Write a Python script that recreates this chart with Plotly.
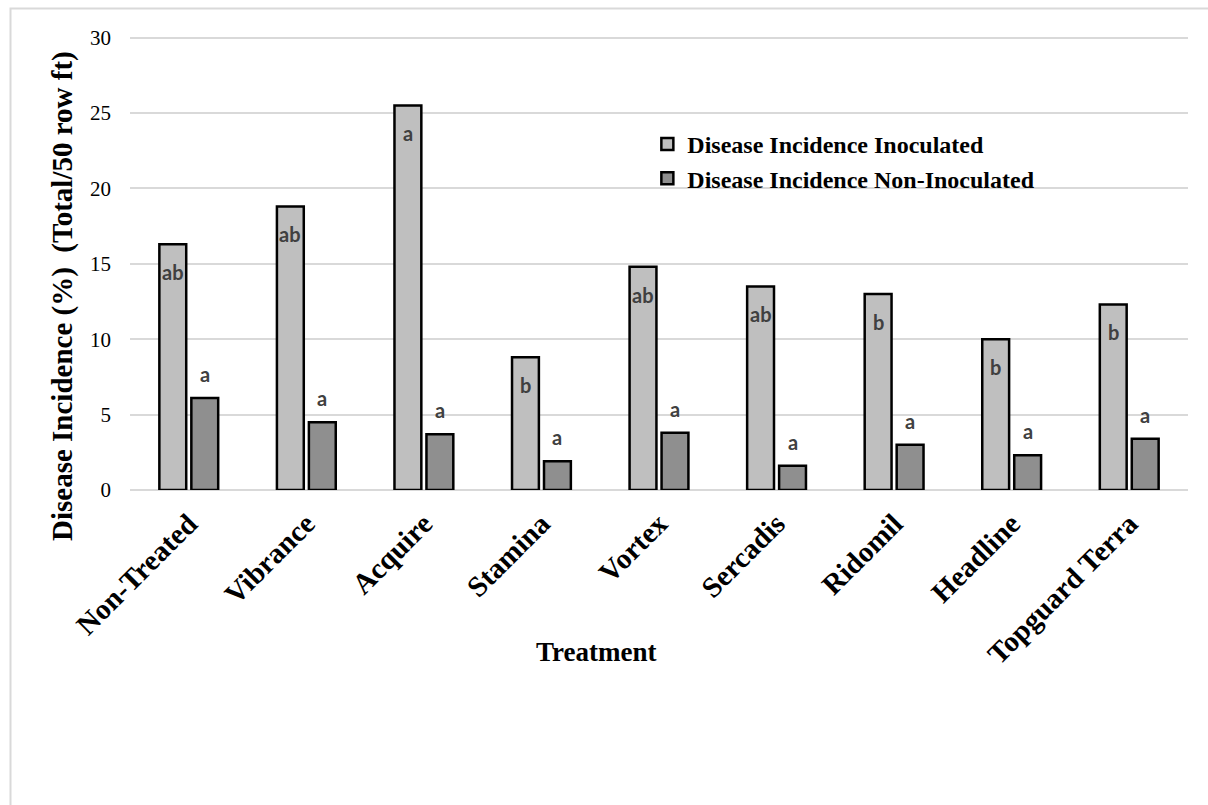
import plotly.graph_objects as go

treatments = ["Non-Treated", "Vibrance", "Acquire", "Stamina", "Vortex",
              "Sercadis", "Ridomil", "Headline", "Topguard Terra"]
inoculated = [16.3, 18.8, 25.5, 8.8, 14.8, 13.5, 13.0, 10.0, 12.3]
non_inoculated = [6.1, 4.5, 3.7, 1.9, 3.8, 1.6, 3.0, 2.3, 3.4]
letters_inoc = ["ab", "ab", "a", "b", "ab", "ab", "b", "b", "b"]
letters_non = ["a", "a", "a", "a", "a", "a", "a", "a", "a"]

SERIF = "Liberation Serif"
LETTER_FONT = dict(family="Lato", size=20, color="#404040", weight="bold")

fig = go.Figure()
fig.add_trace(go.Bar(
    name="Disease Incidence Inoculated", x=treatments, y=inoculated,
    marker=dict(color="#bfbfbf", line=dict(color="#000000", width=2.5)),
))
fig.add_trace(go.Bar(
    name="Disease Incidence Non-Inoculated", x=treatments, y=non_inoculated,
    marker=dict(color="#8f8f8f", line=dict(color="#000000", width=2.5)),
))

annotations = []
# significance letters: inside the top of the inoculated bars, above the others
for t, v, lab in zip(treatments, inoculated, letters_inoc):
    annotations.append(dict(x=t, y=v, xref="x", yref="y", text=lab,
                            showarrow=False, xshift=-16, yshift=-28,
                            yanchor="middle", font=LETTER_FONT))
for t, v, lab in zip(treatments, non_inoculated, letters_non):
    annotations.append(dict(x=t, y=v, xref="x", yref="y", text=lab,
                            showarrow=False, xshift=16, yshift=24,
                            yanchor="middle", font=LETTER_FONT))

PLOT_H = 805 - 33 - 315  # plot area height in px

# axis titles
annotations.append(dict(text="<b>Disease Incidence (%)  (Total/50 row ft)</b>",
                        xref="paper", yref="paper", x=(62 - 130) / 1058,
                        y=(490 - 296) / PLOT_H,
                        xanchor="center", yanchor="middle",
                        textangle=-90, showarrow=False,
                        font=dict(family=SERIF, size=29, color="#000000")))
annotations.append(dict(text="<b>Treatment</b>", xref="paper", yref="paper",
                        x=0.44, y=(490 - 652) / PLOT_H,
                        xanchor="center", yanchor="middle",
                        showarrow=False,
                        font=dict(family=SERIF, size=27, color="#000000")))

fig.update_layout(
    width=1208, height=805,
    margin=dict(l=130, r=20, t=33, b=315),
    paper_bgcolor="white", plot_bgcolor="white",
    barmode="group", bargap=0.456, bargroupgap=0.16,
    showlegend=True,
    legend=dict(x=0.489, y=(490 - 122) / PLOT_H, xanchor="left", yanchor="top",
                bgcolor="rgba(0,0,0,0)", tracegroupgap=0, itemwidth=30,
                font=dict(family=SERIF, size=24, color="#000000", weight="bold")),
    annotations=annotations,
    shapes=[dict(type="rect", xref="paper", yref="paper",
                 x0=(10.5 - 130) / 1058, x1=(1215 - 130) / 1058,
                 y0=(490 - 815) / PLOT_H, y1=(490 - 8.5) / PLOT_H,
                 line=dict(color="#d9d9d9", width=2), layer="below")],
)
fig.update_xaxes(
    tickangle=-45, showgrid=False, showline=False, ticks="",
    ticklabelstandoff=10,
    tickfont=dict(family=SERIF, size=29, color="#000000", weight="bold"),
)
fig.update_yaxes(
    range=[0, 30.3], tickvals=[0, 5, 10, 15, 20, 25, 30],
    showgrid=True, gridcolor="#d9d9d9", gridwidth=2,
    zeroline=True, zerolinecolor="#d9d9d9", zerolinewidth=2,
    showline=False, ticks="", ticklabelstandoff=18,
    tickfont=dict(family=SERIF, size=21, color="#000000"),
)

fig.write_html("out.html")
